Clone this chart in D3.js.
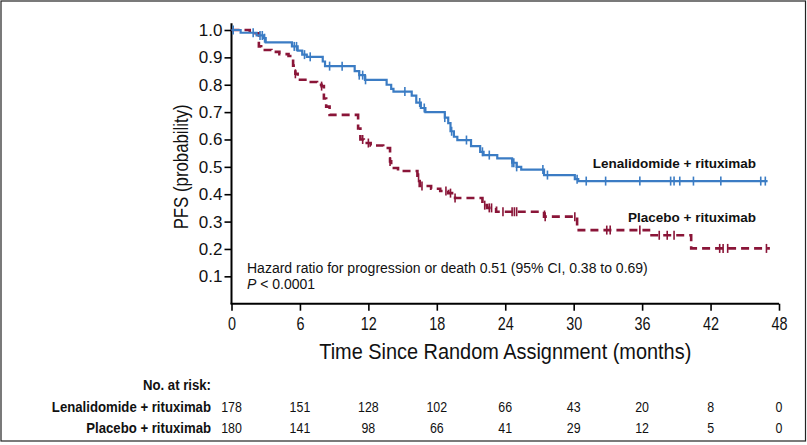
<!DOCTYPE html>
<html>
<head>
<meta charset="utf-8">
<script src="https://cdn.jsdelivr.net/npm/d3@7"></script>
<style>
  body { margin: 0; background: #fff; }
  svg { display: block; }
</style>
</head>
<body>
<div id="chart"></div>
<script>
// Lenalidomide + rituximab: step times (months) and survival after each step
const lenTimes = [0.8, 2.2, 2.8, 3.0, 5.3, 5.8, 6.2, 6.6, 8.0, 8.2, 10.8, 11.2, 11.7, 13.6, 14.0, 14.2,
    15.8, 16.2, 16.6, 17.0, 18.7, 19.0, 19.2, 19.5, 19.8, 21.0, 21.8, 22.1, 23.3, 24.6, 25.0, 25.4,
    27.4, 30.1, 30.4];
const lenSurv = [0.99, 0.98, 0.97, 0.955, 0.94, 0.925, 0.91, 0.902, 0.885, 0.868, 0.85, 0.835, 0.818,
    0.80, 0.785, 0.775, 0.76, 0.735, 0.715, 0.70, 0.68, 0.66, 0.63, 0.61, 0.598, 0.576, 0.555, 0.543,
    0.531, 0.515, 0.50, 0.49, 0.47, 0.455, 0.448];
const lenEnd = 47.0;
const lenCensor = [0.15, 1.9, 2.5, 2.7, 2.9, 5.5, 5.7, 6.4, 6.9, 8.6, 9.7, 11.2, 11.5, 11.75, 15.2,
    16.5, 16.9, 18.7, 19.3, 20.6, 22.0, 22.6, 24.6, 24.75, 25.0, 27.3, 27.7, 30.3, 31.1, 32.8, 35.8,
    38.5, 38.8, 39.3, 40.5, 42.9, 46.4, 46.8];

// Placebo + rituximab
const plaTimes = [1.6, 2.4, 2.6, 3.5, 4.2, 5.0, 5.4, 5.6, 5.8, 6.8, 7.5, 7.9, 8.1, 8.3, 8.6, 11.1,
    11.3, 11.6, 12.2, 13.3, 13.9, 14.0, 14.6, 16.3, 16.5, 17.5, 18.3, 19.0, 19.6, 22.0, 22.4, 23.2,
    27.4, 30.3, 36.6, 40.3];
const plaSurv = [0.988, 0.94, 0.927, 0.92, 0.912, 0.905, 0.87, 0.84, 0.818, 0.81, 0.80, 0.795, 0.75,
    0.72, 0.69, 0.64, 0.60, 0.587, 0.578, 0.569, 0.52, 0.496, 0.485, 0.46, 0.43, 0.42, 0.412, 0.404,
    0.386, 0.36, 0.35, 0.336, 0.318, 0.269, 0.25, 0.202];
const plaEnd = 47.2;
const plaCensor = [5.6, 7.9, 11.5, 12.0, 13.9, 16.4, 16.7, 18.8, 19.2, 19.6, 22.2, 22.6, 22.8, 23.8,
    24.6, 24.8, 25.0, 27.5, 30.1, 32.9, 33.2, 35.8, 37.5, 38.2, 38.8, 42.8, 43.1, 43.5, 46.9];

const xTicks = [0, 6, 12, 18, 24, 30, 36, 42, 48];
const yTicks = [0.1, 0.2, 0.3, 0.4, 0.5, 0.6, 0.7, 0.8, 0.9, 1.0];
const riskLen = [178, 151, 128, 102, 66, 43, 20, 8, 0];
const riskPla = [180, 141, 98, 66, 41, 29, 12, 5, 0];

const W = 807, H = 445;
const blue = "#3b7cc4", red = "#8a1538", ink = "#111";

const svg = d3.select("#chart").append("svg")
    .attr("width", W).attr("height", H)
    .style("font-family", "'Liberation Sans', Arial, sans-serif");

svg.append("rect").attr("x", 1).attr("y", 1).attr("width", W - 2.5).attr("height", 440)
    .attr("fill", "none").attr("stroke", "#222").attr("stroke-width", 1.2);

const x = d3.scaleLinear().domain([0, 48]).range([231.5, 779]);
const y = d3.scaleLinear().domain([0, 1]).range([303.7, 30]);

// narrow-looking text: the original uses a condensed face, squeeze a normal one
function narrowText(px, py, sx, size, txt, anchor, bold) {
    return svg.append("text")
        .attr("transform", `translate(${px},${py}) scale(${sx},1)`)
        .attr("text-anchor", anchor || "middle")
        .style("font-size", size + "px").style("font-weight", bold ? "bold" : null)
        .attr("fill", ink).text(txt);
}

// axes
const yAxis = svg.append("g").attr("transform", `translate(${x(0)},0)`)
    .call(d3.axisLeft(y).tickValues(yTicks).tickFormat(d3.format(".1f")).tickSize(7).tickSizeOuter(0));
yAxis.select(".domain").remove();
yAxis.append("line").attr("x1", 0).attr("x2", 0).attr("y1", y(1.025)).attr("y2", y(0))
    .attr("stroke", "#000").attr("stroke-width", 2);
yAxis.selectAll(".tick line").attr("stroke-width", 1.6);
yAxis.selectAll(".tick text").attr("x", -9).style("font-size", "17px")
    .style("font-family", "'Liberation Sans', Arial, sans-serif").attr("fill", ink);

const xAxis = svg.append("g").attr("transform", `translate(0,${y(0)})`)
    .call(d3.axisBottom(x).tickValues(xTicks).tickSize(7).tickSizeOuter(0));
xAxis.select(".domain").remove();
xAxis.append("line").attr("x1", x(0) - 1).attr("x2", x(48)).attr("y1", 0).attr("y2", 0)
    .attr("stroke", "#000").attr("stroke-width", 2);
xAxis.selectAll(".tick line").attr("stroke-width", 1.6);
xAxis.selectAll(".tick text").attr("y", 14).attr("transform", "scale(0.8,1)")
    .style("font-size", "18px").style("font-family", "'Liberation Sans', Arial, sans-serif").attr("fill", ink);

svg.append("text")
    .attr("transform", `translate(188,${(y(0) + y(1)) / 2}) rotate(-90) scale(0.8,1)`)
    .attr("text-anchor", "middle").style("font-size", "21px").attr("fill", ink)
    .text("PFS (probability)");

narrowText((x(0) + x(48)) / 2, 358.5, 0.885, 22.5, "Time Since Random Assignment (months)");

// curves
function stepPoints(times, surv, end) {
    const pts = [[0, 1]];
    times.forEach((t, i) => pts.push([t, surv[i]]));
    pts.push([end, surv[surv.length - 1]]);
    return pts;
}
function survAt(times, surv, t) {
    let s = 1;
    times.forEach((tt, i) => { if (tt <= t) s = surv[i]; });
    return s;
}
const line = d3.line().x(d => x(d[0])).y(d => y(d[1])).curve(d3.curveStepAfter);

function drawArm(times, surv, end, censor, color, dash) {
    const g = svg.append("g");
    g.append("path").datum(stepPoints(times, surv, end))
        .attr("d", line).attr("fill", "none").attr("stroke", color)
        .attr("stroke-width", dash ? 2.6 : 2.2)
        .attr("stroke-dasharray", dash ? "8,5" : null);
    g.selectAll("line.censor").data(censor).enter().append("line")
        .attr("class", "censor")
        .attr("x1", d => x(d)).attr("x2", d => x(d))
        .attr("y1", d => y(survAt(times, surv, d)) - 4.5)
        .attr("y2", d => y(survAt(times, surv, d)) + 4.5)
        .attr("stroke", color).attr("stroke-width", 1.6);
}
drawArm(plaTimes, plaSurv, plaEnd, plaCensor, red, true);
drawArm(lenTimes, lenSurv, lenEnd, lenCensor, blue, false);

// labels
svg.append("text").attr("x", 756).attr("y", 168).attr("text-anchor", "end")
    .style("font-size", "13.5px").style("font-weight", "bold").attr("fill", ink)
    .text("Lenalidomide + rituximab");
svg.append("text").attr("x", 756).attr("y", 222).attr("text-anchor", "end")
    .style("font-size", "13.5px").style("font-weight", "bold").attr("fill", ink)
    .text("Placebo + rituximab");

svg.append("text").attr("x", 247).attr("y", 272.5).style("font-size", "14px").attr("fill", ink)
    .text("Hazard ratio for progression or death 0.51 (95% CI, 0.38 to 0.69)");
const pt = svg.append("text").attr("x", 247).attr("y", 289).style("font-size", "14px").attr("fill", ink);
pt.append("tspan").style("font-style", "italic").text("P");
pt.append("tspan").text(" < 0.0001");

// risk table
const labX = 211;
narrowText(labX, 389.5, 0.85, 15.5, "No. at risk:", "end", true);
[["Lenalidomide + rituximab", riskLen, 411.5], ["Placebo + rituximab", riskPla, 432.5]].forEach(([name, vals, yy]) => {
    narrowText(labX, yy, 0.85, 15.5, name, "end", true);
    vals.forEach((v, i) => narrowText(x(xTicks[i]), yy, 0.8, 15.5, v, "middle", false));
});
</script>
</body>
</html>
